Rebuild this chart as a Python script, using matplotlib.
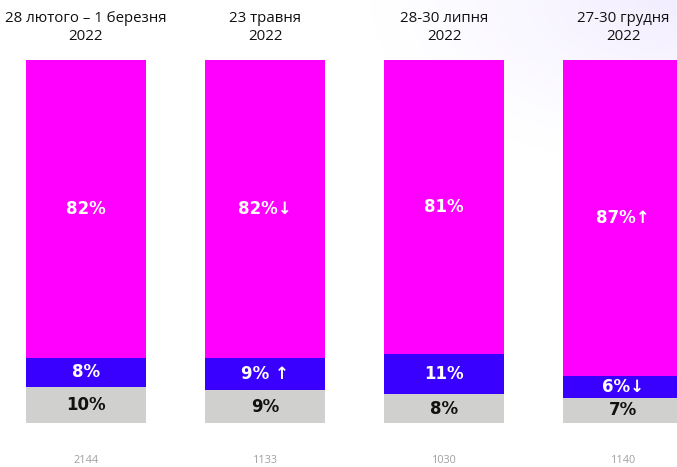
import matplotlib
matplotlib.use("Agg")
import matplotlib.pyplot as plt
import numpy as np

periods = ["28 лютого – 1 березня\n2022", "23 травня\n2022", "28-30 липня\n2022", "27-30 грудня\n2022"]
counts = [2144, 1133, 1030, 1140]
gray_vals = [10, 9, 8, 7]
blue_vals = [8, 9, 11, 6]
magenta_vals = [82, 82, 81, 87]
blue_arrows = ["", " ↑", "", "↓"]
magenta_arrows = ["", "↓", "", "↑"]

C_GRAY = "#D0D1CF"
C_BLUE = "#3A00FF"
C_MAG = "#FF00FF"

fig = plt.figure(figsize=(6.77, 4.67), dpi=100)

# faint background gradient (top-right lavender)
bg = fig.add_axes([0, 0, 1, 1], zorder=0)
xx, yy = np.meshgrid(np.linspace(0, 1, 200), np.linspace(0, 1, 200))
d = np.sqrt(((xx - 1.0) / 0.45) ** 2 + ((yy - 1.0) / 0.35) ** 2)
w = np.clip(1 - d, 0, 1) ** 1.2
base = np.array([1.0, 1.0, 1.0])
tint = np.array([0.95, 0.93, 1.0])
img = base[None, None, :] * (1 - w[..., None]) + tint[None, None, :] * w[..., None]
bg.imshow(img, origin="lower", extent=[0, 1, 0, 1], aspect="auto")
bg.axis("off")

ax = fig.add_axes([0, 0, 1, 1], zorder=1)
ax.patch.set_alpha(0)
x = np.arange(len(periods))
width = 0.67
ax.bar(x, gray_vals, width, color=C_GRAY)
ax.bar(x, blue_vals, width, bottom=gray_vals, color=C_BLUE)
bottoms_m = np.array(gray_vals) + np.array(blue_vals)
ax.bar(x, magenta_vals, width, bottom=bottoms_m, color=C_MAG)

ax.set_xlim(-0.48, 3.30)
ax.set_ylim(-12.1, 116.5)
ax.axis("off")

lab_font = dict(family=["DejaVu Sans"], fontweight="bold", fontsize=12)
for i in range(len(periods)):
    g, b, m = gray_vals[i], blue_vals[i], magenta_vals[i]
    ax.text(x[i], g / 2, f"{g}%", ha="center", va="center", color="#111111", **lab_font)
    ax.text(x[i], g + b / 2, f"{b}%{blue_arrows[i]}", ha="center", va="center", color="white", **lab_font)
    ax.text(x[i], g + b + m / 2, f"{m}%{magenta_arrows[i]}", ha="center", va="center", color="white", **lab_font)
    ax.text(x[i], 109.0, periods[i], ha="center", va="center", color="#111111",
            family=["Open Sans", "DejaVu Sans"], fontsize=10.8, fontweight="medium", linespacing=1.3)
    ax.text(x[i], -10.2, str(counts[i]), ha="center", va="center", color="#A0A0A0",
            family=["Open Sans", "DejaVu Sans"], fontsize=7.8)

fig.savefig("out.png", dpi=100)
